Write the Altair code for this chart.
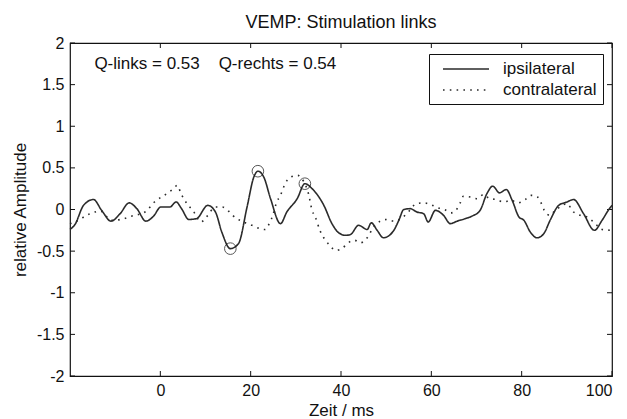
import altair as alt
import pandas as pd

# ---- data ----
ipsi_t = [-20.0, -18.9, -17.0, -14.8, -13.0, -10.9, -8.9, -6.9, -5.2, -3.2, -1.5, 0.1, 2.1, 3.5, 4.7,
          6.3, 8.0, 10.5, 12.2, 13.6, 15.5, 17.3, 19.2, 20.7, 21.6, 22.9, 24.4, 26.6, 28.0, 30.3,
          32.0, 33.6, 36.2, 38.0, 39.5, 41.0, 42.1, 43.9, 45.8, 46.7, 48.0, 49.4, 51.7, 52.8, 53.9,
          55.3, 56.8, 58.3, 59.3, 60.9, 62.7, 64.2, 65.7, 67.5, 69.0, 70.8, 72.3, 73.6, 75.1, 76.6,
          77.9, 79.4, 80.5, 81.9, 83.4, 84.9, 86.3, 88.2, 90.0, 91.5, 93.7, 96.1, 97.8, 99.3, 100.0]
ipsi_v = [-0.24, -0.18, 0.05, 0.12, -0.01, -0.14, -0.05, 0.08, 0.01, -0.14, -0.08, 0.03, 0.03, 0.09, 0.01,
          -0.12, -0.11, 0.05, -0.03, -0.27, -0.47, -0.41, 0.03, 0.39, 0.46, 0.39, 0.13, -0.17, -0.03, 0.13,
          0.31, 0.25, 0.05, -0.17, -0.28, -0.31, -0.30, -0.19, -0.24, -0.16, -0.25, -0.34, -0.25, -0.13, 0.00,
          0.01, -0.03, -0.05, -0.15, -0.01, -0.07, -0.17, -0.14, -0.11, -0.08, -0.01, 0.19, 0.28, 0.20, 0.24,
          0.11, -0.09, -0.13, -0.27, -0.34, -0.29, -0.13, 0.05, 0.09, 0.12, -0.05, -0.25, -0.13, 0.00, 0.05]

contra_t = [-20.0, -18.9, -16.3, -15.1, -13.3, -10.8, -8.0, -6.4, -3.4, -1.3, 1.4, 2.7, 3.8, 4.5, 5.3,
            6.2, 7.3, 9.0, 10.2, 12.2, 13.7, 15.1, 16.2, 17.6, 20.3, 22.0, 23.2, 24.2, 24.9, 25.7,
            26.6, 27.7, 28.9, 30.4, 31.7, 32.8, 33.6, 34.3, 35.4, 36.3, 37.3, 38.9, 40.4, 41.6, 43.0,
            44.3, 45.8, 47.2, 48.7, 50.2, 51.7, 54.4, 56.7, 58.3, 59.8, 61.5, 62.9, 64.4, 65.7, 66.4,
            67.1, 68.6, 70.1, 71.6, 72.9, 74.4, 76.0, 77.6, 79.2, 80.8, 82.1, 83.5, 84.3, 85.0, 86.3,
            87.4, 88.5, 90.0, 91.5, 93.0, 94.5, 96.3, 97.8, 100.0]
contra_v = [-0.17, -0.15, -0.07, -0.04, -0.02, -0.13, -0.11, -0.08, -0.03, 0.09, 0.19, 0.24, 0.29, 0.20, 0.12,
            0.05, -0.02, -0.15, -0.09, 0.03, 0.03, -0.02, -0.08, -0.13, -0.19, -0.23, -0.24, -0.16, -0.07, 0.08,
            0.17, 0.32, 0.39, 0.41, 0.34, 0.19, -0.01, -0.09, -0.26, -0.35, -0.42, -0.49, -0.46, -0.40, -0.37,
            -0.40, -0.34, -0.21, -0.14, -0.12, -0.14, -0.06, 0.07, 0.08, 0.06, 0.02, 0.00, -0.04, 0.01, 0.08,
            0.16, 0.15, 0.13, 0.18, 0.13, 0.12, 0.09, 0.11, 0.08, 0.12, 0.17, 0.15, 0.08, -0.01, -0.07,
            -0.01, 0.03, 0.07, -0.03, -0.07, -0.09, -0.17, -0.24, -0.25]

peak_t = [15.5, 21.6, 32.0]
peak_v = [-0.47, 0.46, 0.31]

series_names = ["ipsilateral", "contralateral"]
x_ticks = [0, 20, 40, 60, 80, 100]
y_ticks = [-2, -1.5, -1, -0.5, 0, 0.5, 1, 1.5, 2]
annotation = ["Q-links = 0.53\u00a0\u00a0\u00a0\u00a0Q-rechts = 0.54"]
annot_pos = [-14.6, 1.75]

W, H = 542, 333
FONT = "Liberation Sans"

lines = pd.concat([
    pd.DataFrame({"t": ipsi_t, "v": ipsi_v, "s": series_names[0]}),
    pd.DataFrame({"t": contra_t, "v": contra_v, "s": series_names[1]}),
])
peaks = pd.DataFrame({"t": peak_t, "v": peak_v})
xt = pd.DataFrame({"t": x_ticks})
yt = pd.DataFrame({"v": y_ticks})
ann = pd.DataFrame({"t": [annot_pos[0]], "v": [annot_pos[1]], "txt": annotation})

xscale = alt.Scale(domain=[-20, 100], nice=False, zero=False)
yscale = alt.Scale(domain=[-2, 2], nice=False, zero=False)

xaxis = alt.Axis(values=x_ticks, title="Zeit / ms", grid=False, domain=False, ticks=False, tickSize=0,
                 labelExpr="'' + datum.value", labelPadding=6, titlePadding=4,
                 labelFontSize=16, titleFontSize=17, labelFont=FONT, titleFont=FONT,
                 titleFontWeight="normal", labelColor="#111", titleColor="#111")
yaxis = alt.Axis(values=y_ticks, title="relative Amplitude", grid=False, domain=False, ticks=False, tickSize=0,
                 labelExpr="'' + datum.value", labelPadding=6, titlePadding=7,
                 labelFontSize=16, titleFontSize=17, labelFont=FONT, titleFont=FONT,
                 titleFontWeight="normal", labelColor="#111", titleColor="#111")

line_layer = alt.Chart(lines).mark_line(interpolate="monotone", color="#2b2b2b", strokeWidth=1.6).encode(
    x=alt.X("t:Q", scale=xscale, axis=xaxis),
    y=alt.Y("v:Q", scale=yscale, axis=yaxis),
    strokeDash=alt.StrokeDash(
        "s:N",
        scale=alt.Scale(domain=series_names, range=[[1, 0], [1.6, 5.2]]),
        legend=alt.Legend(
            title=None, orient="none", legendX=359, legendY=11,
            strokeColor="#111", fillColor="white", padding=6, symbolOffset=22,
            symbolType="M-2.875,0H2.875", symbolSize=256, symbolStrokeWidth=1.6,
            symbolStrokeColor="#2b2b2b", symbolFillColor="transparent",
            labelFontSize=17, labelFont=FONT,
            labelColor="#111", labelOffset=28, rowPadding=4, cornerRadius=0,
        ),
    ),
    detail="s:N",
)

peak_layer = alt.Chart(peaks).mark_point(shape="circle", filled=False, size=135, color="#111",
                                         strokeWidth=1).encode(
    x=alt.X("t:Q", scale=xscale), y=alt.Y("v:Q", scale=yscale))

ann_layer = alt.Chart(ann).mark_text(align="left", baseline="middle", font=FONT, fontSize=17,
                                     color="#111").encode(
    x=alt.X("t:Q", scale=xscale), y=alt.Y("v:Q", scale=yscale), text="txt:N")

tick_style = dict(color="#111", strokeWidth=1)
xt_bottom = alt.Chart(xt).mark_rule(**tick_style).encode(
    x=alt.X("t:Q", scale=xscale), y=alt.value(H), y2=alt.value(H - 5))
xt_top = alt.Chart(xt).mark_rule(**tick_style).encode(
    x=alt.X("t:Q", scale=xscale), y=alt.value(0), y2=alt.value(5))
yt_left = alt.Chart(yt).mark_rule(**tick_style).encode(
    y=alt.Y("v:Q", scale=yscale), x=alt.value(0), x2=alt.value(5))
yt_right = alt.Chart(yt).mark_rule(**tick_style).encode(
    y=alt.Y("v:Q", scale=yscale), x=alt.value(W), x2=alt.value(W - 5))

chart = alt.layer(xt_bottom, xt_top, yt_left, yt_right, line_layer, peak_layer, ann_layer).properties(
    width=W, height=H,
    title=alt.TitleParams("VEMP: Stimulation links", fontSize=18, font=FONT, fontWeight="normal",
                          color="#111", offset=3, anchor="middle"),
    autosize=alt.AutoSizeParams(type="none"),
    padding={"left": 70, "top": 43, "right": 15, "bottom": 43},
    background="white",
).configure_view(stroke="#111", strokeWidth=1.2)

chart.save("out.html", embed_options={"renderer": "svg", "actions": False})
